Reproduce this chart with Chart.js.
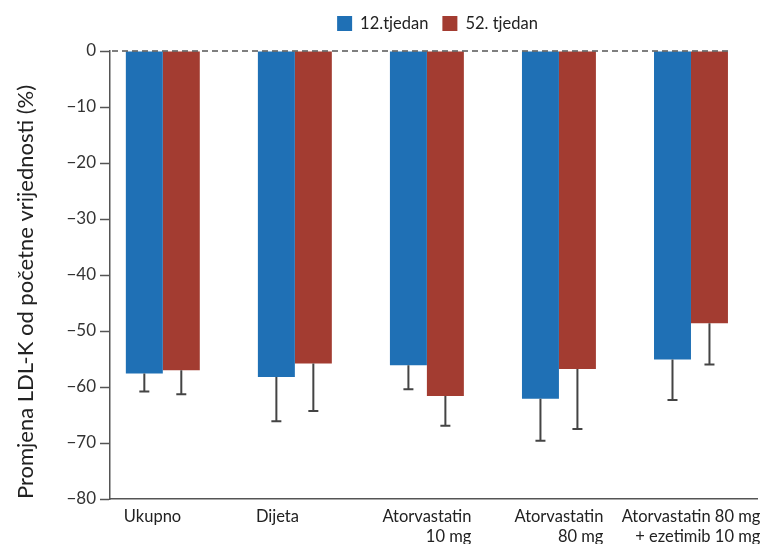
<!DOCTYPE html>
<html><head><meta charset="utf-8">
<script src="https://cdn.jsdelivr.net/npm/chart.js@4"></script>
<style>html,body{margin:0;padding:0;background:#fff}#wrap{width:760px;height:544px}</style>
</head><body><div id="wrap"><canvas id="c" width="760" height="544"></canvas></div>
<script>
const categories = [['Ukupno'], ['Dijeta'], ['Atorvastatin', '10 mg'], ['Atorvastatin', '80 mg'], ['Atorvastatin 80 mg', '+ ezetimib 10 mg']];
const seriesNames = ['12.tjedan', '52. tjedan'];
const week12 = [-57.6, -58.2, -56.1, -62.1, -55.1];
const week52 = [-57.0, -55.8, -61.6, -56.8, -48.6];
const week12Err = [3.2, 7.9, 4.3, 7.5, 7.2];
const week52Err = [4.3, 8.5, 5.3, 10.7, 7.4];
const yTicks = [0, -10, -20, -30, -40, -50, -60, -70, -80];
const yTitle = 'Promjena LDL-K od početne vrijednosti (%)';

const FONT = 'Lato';
const BLUE = '#1f70b5';
const RED = '#a33c31';
const COLORS = [BLUE, RED];
const AXIS = '#555';

const errorBars = {
  id: 'errorBars',
  afterDatasetsDraw(chart) {
    const ctx = chart.ctx, ys = chart.scales.y;
    const errs = [week12Err, week52Err];
    let lastRight = chart.chartArea.right;
    ctx.save();
    ctx.strokeStyle = '#444';
    ctx.lineWidth = 2;
    chart.data.datasets.forEach((ds, d) => {
      chart.getDatasetMeta(d).data.forEach((bar, i) => {
        const v = ds.data[i].y;
        const y0 = ys.getPixelForValue(v);
        const y1 = ys.getPixelForValue(v - errs[d][i]);
        ctx.beginPath();
        ctx.moveTo(bar.x, y0); ctx.lineTo(bar.x, y1);
        ctx.moveTo(bar.x - 5, y1); ctx.lineTo(bar.x + 5, y1);
        ctx.stroke();
        lastRight = bar.x + bar.width / 2;
      });
    });
    // dashed zero line
    const yz = ys.getPixelForValue(0);
    ctx.strokeStyle = AXIS;
    ctx.lineWidth = 1.5;
    ctx.setLineDash([6, 4]);
    ctx.beginPath();
    ctx.moveTo(chart.chartArea.left + 2, yz); ctx.lineTo(lastRight + 4, yz);
    ctx.stroke();
    ctx.restore();
  }
};

const textLayer = {
  id: 'textLayer',
  afterDraw(chart) {
    const ctx = chart.ctx, xs = chart.scales.x, ca = chart.chartArea;
    const firstBars = chart.getDatasetMeta(0).data;
    ctx.save();
    // category labels: single lines start under the bar group, multi-line blocks right-aligned & centred
    ctx.font = '16.5px ' + FONT;
    ctx.fillStyle = '#222';
    ctx.textBaseline = 'middle';
    categories.forEach((lines, i) => {
      const cx = xs.getPixelForValue(i);
      if (lines.length === 1) {
        ctx.textAlign = 'left';
        const bar = firstBars[i];
        ctx.fillText(lines[0], bar.x - bar.width / 2 - 2, ca.bottom + 18);
      } else {
        ctx.textAlign = 'right';
        const w = Math.max(...lines.map(l => ctx.measureText(l).width));
        lines.forEach((l, k) => ctx.fillText(l, cx + w / 2, ca.bottom + 18 + k * 20));
      }
    });
    // y axis title
    ctx.save();
    ctx.font = '22px ' + FONT;
    ctx.textAlign = 'center';
    ctx.textBaseline = 'alphabetic';
    ctx.translate(33, (ca.top + ca.bottom) / 2 + 17);
    ctx.rotate(-Math.PI / 2);
    ctx.fillText(yTitle, 0, 0);
    ctx.restore();
    // legend
    ctx.font = '16.5px ' + FONT;
    ctx.textAlign = 'left';
    const box = 15, gap = 8, itemGap = 14;
    const widths = seriesNames.map(n => ctx.measureText(n).width);
    const total = widths.reduce((a, w) => a + box + gap + w, 0) + itemGap * (seriesNames.length - 1);
    let x = (ca.left + ca.right) / 2 + 4 - total / 2;
    const yc = 23.5;
    seriesNames.forEach((n, i) => {
      ctx.fillStyle = COLORS[i];
      ctx.fillRect(x, yc - box / 2, box, box);
      ctx.fillStyle = '#222';
      ctx.fillText(n, x + box + gap, yc);
      x += box + gap + widths[i] + itemGap;
    });
    ctx.restore();
  }
};

new Chart(document.getElementById('c'), {
  type: 'bar',
  data: {
    datasets: [
      { label: seriesNames[0], data: week12.map((v, i) => ({ x: i, y: v })), backgroundColor: BLUE, borderWidth: 0 },
      { label: seriesNames[1], data: week52.map((v, i) => ({ x: i, y: v })), backgroundColor: RED, borderWidth: 0 }
    ]
  },
  options: {
    responsive: false,
    animation: false,
    layout: { padding: { left: 0, right: 3, top: 51, bottom: 0 } },
    datasets: { bar: { categoryPercentage: 0.56, barPercentage: 1.0 } },
    plugins: { legend: { display: false }, tooltip: { enabled: false } },
    scales: {
      x: {
        type: 'linear',
        offset: false,
        min: -0.4, max: 4.5,
        afterBuildTicks(s) { s.ticks = categories.map((c, i) => ({ value: i })); },
        grid: { display: false, drawTicks: false, offset: false },
        border: { color: AXIS, width: 1.5 },
        ticks: { display: false },
        afterFit(s) { s.height = 45; }
      },
      y: {
        min: -80, max: 0,
        afterBuildTicks(s) { s.ticks = yTicks.map(v => ({ value: v })); },
        grid: { drawOnChartArea: false, drawTicks: true, tickLength: 10, tickColor: AXIS, tickWidth: 1.5 },
        border: { color: AXIS, width: 1.5 },
        ticks: {
          font: { family: FONT, size: 17 },
          color: '#333',
          padding: 4,
          callback: v => v < 0 ? '\u2212' + Math.abs(v) : String(v)
        },
        afterFit(s) { s.width = 110; }
      }
    }
  },
  plugins: [errorBars, textLayer]
});
</script>
</body></html>
